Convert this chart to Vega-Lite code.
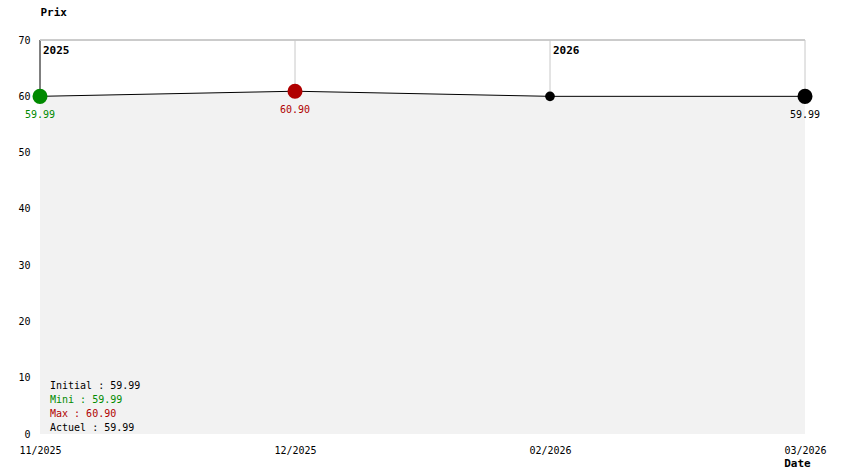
{
  "$schema": "https://vega.github.io/schema/vega-lite/v6.json",
  "width": 765,
  "height": 394,
  "autosize": "none",
  "padding": {"left": 40, "top": 40, "right": 39, "bottom": 40},
  "background": "white",
  "config": {
    "view": {"stroke": null},
    "font": "DejaVu Sans Mono",
    "text": {"font": "DejaVu Sans Mono"}
  },
  "datasets": {
    "prices": [
      {"date": "11/2025", "price": 59.99, "kind": "min"},
      {"date": "12/2025", "price": 60.90, "kind": "max"},
      {"date": "02/2026", "price": 59.99, "kind": "mid"},
      {"date": "03/2026", "price": 59.99, "kind": "last"}
    ],
    "years": [
      {"date": "11/2025", "year": "2025"},
      {"date": "02/2026", "year": "2026"}
    ],
    "summary": [
      {"rank": 1, "text": "Initial : 59.99", "kind": "initial"},
      {"rank": 2, "text": "Mini : 59.99", "kind": "min"},
      {"rank": 3, "text": "Max : 60.90", "kind": "max"},
      {"rank": 4, "text": "Actuel : 59.99", "kind": "last"}
    ]
  },
  "encoding": {
    "x": {
      "field": "date",
      "type": "ordinal",
      "sort": ["11/2025", "12/2025", "02/2026", "03/2026"],
      "scale": {"type": "point", "padding": 0, "domain": ["11/2025", "12/2025", "02/2026", "03/2026"]},
      "axis": {
        "labelAngle": 0,
        "ticks": false,
        "tickSize": 0,
        "domain": false,
        "grid": false,
        "labelPadding": 11,
        "labelFontSize": 10,
        "labelColor": "black",
        "labelFont": "DejaVu Sans Mono",
        "title": "Date",
        "titleFont": "DejaVu Sans Mono",
        "titleFontSize": 11,
        "titleFontWeight": "bold",
        "titleColor": "black",
        "titleX": 757,
        "titleY": 29,
        "titleAlign": "center",
        "titleBaseline": "middle"
      }
    }
  },
  "layer": [
    {
      "layer": [
        {
          "data": {"name": "prices"},
          "mark": {"type": "area", "color": "#f2f2f2", "opacity": 1},
          "encoding": {
            "y": {
              "field": "price",
              "type": "quantitative",
              "scale": {"domain": [0, 70], "nice": false},
              "axis": {
                "values": [0, 10, 20, 30, 40, 50, 60, 70],
                "ticks": false,
                "tickSize": 0,
                "domain": false,
                "grid": false,
                "labelPadding": 10,
                "labelFontSize": 10,
                "labelColor": "black",
                "labelFont": "DejaVu Sans Mono",
                "title": "Prix",
                "titleFont": "DejaVu Sans Mono",
                "titleFontSize": 11,
                "titleFontWeight": "bold",
                "titleColor": "black",
                "titleAngle": 0,
                "titleX": 0,
                "titleY": -28,
                "titleAlign": "left",
                "titleBaseline": "middle"
              }
            }
          }
        },
        {
          "data": {"name": "prices"},
          "mark": {"type": "rule", "strokeWidth": 1},
          "encoding": {
            "y": {"field": "price", "type": "quantitative"},
            "y2": {"datum": 70},
            "color": {"condition": {"test": "datum.date === '11/2025'", "value": "black"}, "value": "#c8c8c8"}
          }
        },
        {
          "data": {"name": "prices"},
          "mark": {"type": "rule", "color": "#c8c8c8", "strokeWidth": 1},
          "encoding": {"x": null, "y": {"datum": 70}}
        },
        {
          "data": {"name": "prices"},
          "mark": {"type": "line", "color": "black", "strokeWidth": 1},
          "encoding": {"y": {"field": "price", "type": "quantitative"}}
        },
        {
          "data": {"name": "prices"},
          "mark": {"type": "point", "filled": true, "opacity": 1, "shape": "circle"},
          "encoding": {
            "y": {"field": "price", "type": "quantitative"},
            "color": {
              "field": "kind",
              "type": "nominal",
              "scale": {"domain": ["min", "max", "mid", "last", "initial"], "range": ["#008a00", "#b00000", "black", "black", "black"]},
              "legend": null
            },
            "size": {"condition": {"test": "datum.kind === 'mid'", "value": 95}, "value": 227}
          }
        },
        {
          "data": {"name": "prices"},
          "transform": [{"filter": "datum.kind !== 'mid'"}],
          "mark": {"type": "text", "fontSize": 10, "dy": 19, "baseline": "middle", "align": "center"},
          "encoding": {
            "y": {"field": "price", "type": "quantitative"},
            "text": {"field": "price", "type": "quantitative", "format": ".2f"},
            "color": {"field": "kind", "type": "nominal", "legend": null}
          }
        },
        {
          "data": {"name": "years"},
          "mark": {"type": "text", "fontSize": 11, "fontWeight": "bold", "align": "left", "baseline": "top", "dx": 3, "dy": 5, "color": "black"},
          "encoding": {
            "y": {"datum": 70},
            "text": {"field": "year", "type": "nominal"}
          }
        }
      ]
    },
    {
      "data": {"name": "summary"},
      "mark": {"type": "text", "fontSize": 10, "align": "left", "baseline": "middle", "dx": 10},
      "encoding": {
        "x": {"datum": "11/2025"},
        "y": {"field": "rank", "type": "quantitative", "scale": {"domain": [-23.71, 4.43], "reverse": true, "nice": false, "zero": false}, "axis": null},
        "text": {"field": "text", "type": "nominal"},
        "color": {"field": "kind", "type": "nominal", "legend": null}
      }
    }
  ],
  "resolve": {"scale": {"y": "independent"}}
}
